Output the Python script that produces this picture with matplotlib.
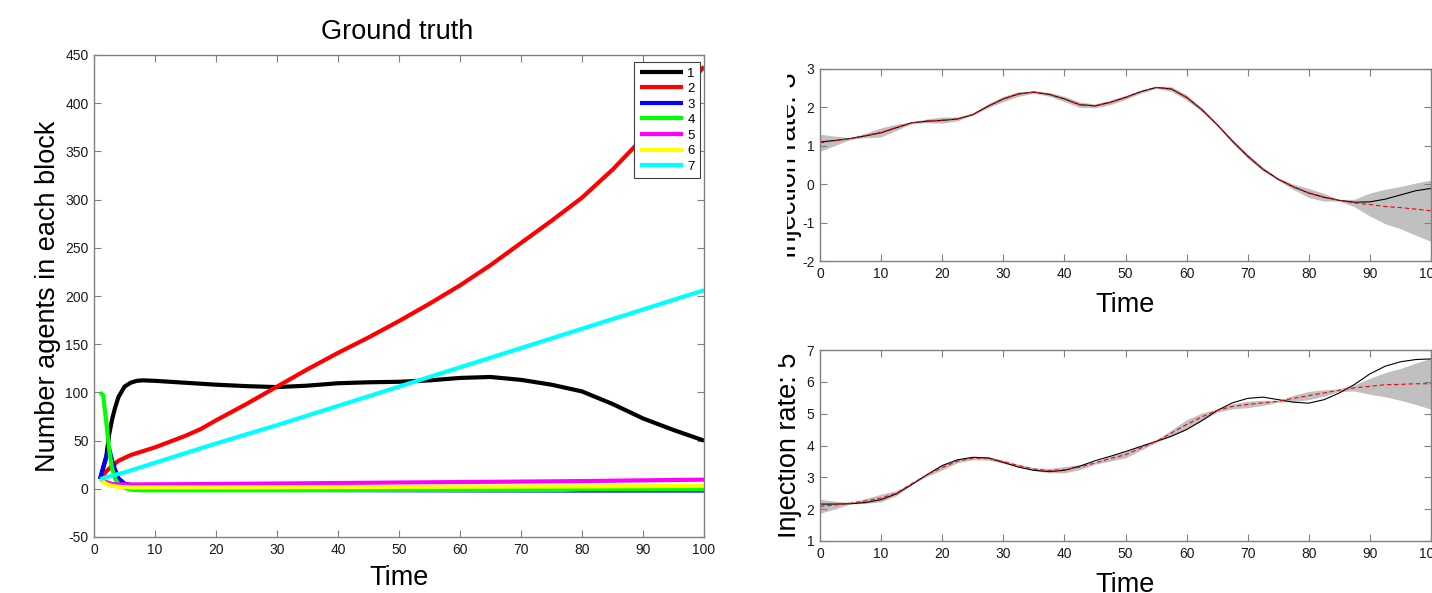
import numpy as np
import matplotlib
matplotlib.use("Agg")
import matplotlib.pyplot as plt
from matplotlib.transforms import Bbox, TransformedBbox

plt.rcParams['font.family'] = ['Liberation Sans', 'DejaVu Sans']
plt.rcParams['axes.unicode_minus'] = False

# ---- left panel: ground truth counts per block ----
t1 = [1, 2, 2.5, 3, 3.5, 4, 5, 6, 7, 8, 10, 15, 20, 25, 30, 35, 40, 45, 50, 55,
      60, 65, 70, 75, 80, 85, 90, 95, 100]
block1 = [10, 33, 57, 73, 85, 95, 106, 110, 112, 112.5, 112, 110, 108, 106.5, 105.5, 107, 109.5, 110.5, 111, 112.5,
          115, 116, 113, 108, 101, 88, 73, 61, 50]

t2 = [1, 2, 3, 4, 5, 6, 7, 8.5, 10, 12.5, 15, 17.5, 20, 25, 30, 35, 40, 45, 50, 55, 60, 65, 70, 75, 80, 85, 90, 95, 100]
block2 = [10, 18, 24, 29, 32, 35, 37, 40, 43, 49, 55, 62, 71, 88, 106, 124, 141, 157, 174, 192, 211, 232, 255, 278, 302, 331, 364, 400, 438]

t3 = [1, 1.5, 2, 2.5, 3, 3.5, 4, 5, 6, 10, 20, 50, 78, 100]
block3 = [10, 22, 33, 41, 29, 19, 11, 5.5, 4, 1, -1, -1.5, -1.8, -1.8]

t4 = [1, 1.5, 2, 2.5, 3, 3.5, 4, 5, 6, 8, 30, 50, 77, 80, 100]
block4 = [100, 97, 70, 40, 20, 10, 5, 1, -1, -1.5, -1.5, -1.2, -1.2, -0.5, -0.5]

t5 = [1, 2, 3, 4, 6, 20, 40, 60, 80, 100]
block5 = [10, 7, 5, 4.5, 4.5, 5, 6, 7, 8, 9.5]

t6 = [1, 2, 3, 4, 6, 20, 50, 80, 100]
block6 = [10, 5, 3, 2, 1.5, 1.5, 2, 2.5, 3]

t7 = [1, 2, 5, 10, 20, 30, 40, 50, 60, 70, 80, 90, 100]
block7 = [10, 12, 17, 27, 47, 66, 86, 106, 126, 146, 166, 186, 206]

block_labels = ['1', '2', '3', '4', '5', '6', '7']
block_colors = ['#000000', '#ff0000', '#0000ff', '#00ff00', '#ff00ff', '#ffff00', '#00ffff']

# ---- right panels: injection rates (truth, estimate, band half-width) ----
tr = [0, 2.5, 5, 7.5, 10, 12.5, 15, 17.5, 20, 22.5, 25, 27.5, 30, 32.5, 35, 37.5, 40, 42.5, 45, 47.5,
      50, 52.5, 55, 57.5, 60, 62.5, 65, 67.5, 70, 72.5, 75, 77.5, 80, 82.5, 85, 87.5, 90, 92.5, 95, 97.5, 100]

rate3_true = [1.10, 1.14, 1.19, 1.26, 1.34, 1.47, 1.60, 1.64, 1.66, 1.70, 1.81, 2.03, 2.22, 2.35, 2.40, 2.34, 2.22, 2.07, 2.04, 2.13,
              2.26, 2.41, 2.52, 2.48, 2.26, 1.94, 1.55, 1.12, 0.73, 0.39, 0.13, -0.07, -0.23, -0.34, -0.42, -0.47, -0.46, -0.39, -0.28, -0.17, -0.11]
rate3_est = [1.08, 1.13, 1.19, 1.27, 1.35, 1.48, 1.60, 1.65, 1.67, 1.70, 1.82, 2.04, 2.22, 2.35, 2.40, 2.34, 2.22, 2.07, 2.04, 2.13,
             2.26, 2.41, 2.52, 2.48, 2.26, 1.94, 1.55, 1.12, 0.73, 0.39, 0.13, -0.07, -0.23, -0.34, -0.42, -0.49, -0.53, -0.58, -0.61, -0.65, -0.69]
rate3_half = [0.22, 0.12, 0.02, 0.06, 0.12, 0.08, 0.02, 0.05, 0.08, 0.05, 0.02, 0.05, 0.07, 0.06, 0.03, 0.05, 0.07, 0.07, 0.05, 0.06,
              0.05, 0.04, 0.03, 0.06, 0.07, 0.05, 0.03, 0.05, 0.06, 0.05, 0.03, 0.07, 0.12, 0.10, 0.02, 0.10, 0.30, 0.45, 0.55, 0.68, 0.80]

rate5_true = [2.16, 2.16, 2.17, 2.21, 2.30, 2.48, 2.77, 3.08, 3.37, 3.55, 3.63, 3.61, 3.47, 3.32, 3.22, 3.18, 3.22, 3.35, 3.52, 3.66,
              3.81, 3.97, 4.13, 4.29, 4.50, 4.78, 5.10, 5.34, 5.48, 5.52, 5.44, 5.36, 5.33, 5.44, 5.65, 5.92, 6.25, 6.49, 6.63, 6.70, 6.72]
rate5_est = [2.09, 2.13, 2.19, 2.26, 2.35, 2.50, 2.80, 3.08, 3.31, 3.51, 3.60, 3.60, 3.49, 3.37, 3.26, 3.21, 3.24, 3.32, 3.45, 3.59,
             3.71, 3.92, 4.13, 4.39, 4.66, 4.90, 5.10, 5.23, 5.29, 5.34, 5.39, 5.48, 5.57, 5.65, 5.74, 5.81, 5.86, 5.91, 5.92, 5.94, 5.94]
rate5_half = [0.22, 0.12, 0.02, 0.08, 0.12, 0.08, 0.02, 0.05, 0.08, 0.05, 0.05, 0.06, 0.05, 0.04, 0.04, 0.07, 0.10, 0.08, 0.04, 0.08,
              0.10, 0.07, 0.03, 0.10, 0.15, 0.12, 0.05, 0.08, 0.10, 0.08, 0.03, 0.10, 0.13, 0.10, 0.04, 0.10, 0.25, 0.38, 0.50, 0.65, 0.80]

spine_grey = '#808080'


def style_axes(ax):
    for s in ax.spines.values():
        s.set_color(spine_grey)
        s.set_linewidth(1.0)
    ax.tick_params(direction='in', length=5, width=0.8, color=spine_grey,
                   top=True, right=True, labelsize=10, labelcolor='#1a1a1a', pad=4)


fig = plt.figure(figsize=(14.32, 5.93), dpi=100)
W, H = 1432.0, 593.0

# left axes
axL = fig.add_axes([94 / W, (H - 537) / H, 610 / W, 482 / H])
series = [(t1, block1), (t2, block2), (t3, block3), (t4, block4), (t5, block5), (t6, block6), (t7, block7)]
for (tt, vals), lab, col in zip(series, block_labels, block_colors):
    axL.plot(tt, vals, color=col, lw=3, label=lab, solid_capstyle='butt')
axL.set_xlim(0, 100)
axL.set_ylim(-50, 450)
axL.set_xticks(np.arange(0, 101, 10))
axL.set_yticks(np.arange(-50, 451, 50))
style_axes(axL)
axL.set_xlabel('Time', fontsize=19.5)
axL.xaxis.set_label_coords(0.5, -(578 - 537) / 482)
axL.xaxis.label.set_va('center')
axL.set_ylabel('Number agents in each block', fontsize=19.5)
axL.yaxis.set_label_coords((61 - 94) / 610, 0.5)
axL.text(0.497, 1 + (55 - 32) / 482, 'Ground truth', transform=axL.transAxes,
         ha='center', va='center', fontsize=19.5)
leg = axL.legend(loc='upper right', bbox_to_anchor=((700 - 94) / 610, (537 - 62) / 482),
                 borderaxespad=0, fontsize=9.5, handlelength=3.3, handletextpad=0.3,
                 labelspacing=0.25, borderpad=0.4, fancybox=False, framealpha=1)
leg.get_frame().set_edgecolor('#404040')
leg.get_frame().set_linewidth(0.8)

# right axes
right_specs = [
    (69, 261, rate3_true, rate3_est, rate3_half, (-2, 3), 'Injection rate: 3', 787),
    (350, 541, rate5_true, rate5_est, rate5_half, (1, 7), 'Injection rate: 5', 778),
]
for top, bot, truth, est, half, ylim, ylab, clip_x in right_specs:
    ax = fig.add_axes([820 / W, (H - bot) / H, 611 / W, (bot - top) / H])
    est_a = np.array(est)
    half_a = np.array(half)
    ax.fill_between(tr, est_a - half_a, est_a + half_a, color='#c0c0c0', lw=0)
    ax.plot(tr, truth, color='black', lw=0.8)
    ax.plot(tr, est, color='#ff0000', lw=0.8, dashes=(4, 2.5))
    ax.set_xlim(0, 100)
    ax.set_ylim(*ylim)
    ax.set_xticks(np.arange(0, 101, 10))
    ax.set_yticks(np.arange(ylim[0], ylim[1] + 1, 1))
    style_axes(ax)
    ax.set_xlabel('Time', fontsize=19.5)
    ax.xaxis.set_label_coords(0.5, -(305 - 261) / 192)
    ax.xaxis.label.set_va('center')
    ax.set_ylabel(ylab, fontsize=19.5)
    ax.yaxis.set_label_coords((802 - 820) / 611, 0.5)
    # the source image is cropped just left of these labels
    clip = TransformedBbox(Bbox([[clip_x / W, 0], [1, 1]]), fig.transFigure)
    ax.yaxis.label.set_clip_box(clip)
    ax.yaxis.label.set_clip_on(True)

fig.savefig('out.png', dpi=100)
